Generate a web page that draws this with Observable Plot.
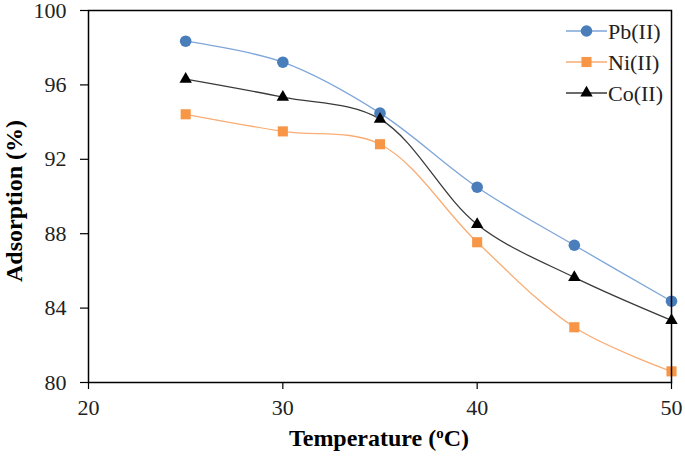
<!DOCTYPE html>
<html><head>
<meta charset="utf-8">
<script src="https://cdn.jsdelivr.net/npm/d3@7"></script>
<script src="https://cdn.jsdelivr.net/npm/@observablehq/plot@0.6"></script>
<style>body{margin:0;background:#fff}</style>
</head><body><div id="chart"></div>
<script>
const temperature = [25, 30, 35, 40, 45, 50];
const pb = [98.35, 97.22, 94.48, 90.5, 87.38, 84.37];
const ni = [94.42, 93.5, 92.81, 87.54, 82.97, 80.6];
const co = [96.31, 95.34, 94.16, 88.5, 85.65, 83.34];
const seriesNames = ["Pb(II)", "Ni(II)", "Co(II)"];
const xTicks = [20, 30, 40, 50];
const yTicks = [80, 84, 88, 92, 96, 100];

const FONT = "'Liberation Serif', 'Times New Roman', serif";
const styles = {
  "Pb(II)": {line: "#7ea6d9", fill: "#4a7ebb", symbol: "circle", r: 5.8},
  "Ni(II)": {line: "#f9ad74", fill: "#f79646", symbol: "square", r: 5.7},
  "Co(II)": {line: "#3a3a3a", fill: "#000000", symbol: "triangle", r: 4.6}
};
const valuesBy = {"Pb(II)": pb, "Ni(II)": ni, "Co(II)": co};
const data = seriesNames.map(s => temperature.map((t, i) => ({series: s, t, v: valuesBy[s][i]})));

const W = 685, H = 457, mL = 88, mR = 14, mT = 10, mB = 75;
const marks = [];
data.forEach(d => {
  const st = styles[d[0].series];
  marks.push(Plot.line(d, {x: "t", y: "v", stroke: st.line, strokeWidth: 1.3, curve: "catmull-rom"}));
});
data.forEach(d => {
  const st = styles[d[0].series];
  marks.push(Plot.dot(d, {x: "t", y: "v", symbol: st.symbol, r: st.r, fill: st.fill, stroke: "none"}));
});
marks.push(Plot.frame({stroke: "black", strokeWidth: 1.5}));
marks.push(Plot.axisX({ticks: xTicks, tickSize: 7, tickPadding: 10, label: null, stroke: "black", strokeWidth: 1.2, fill: "#222", fontSize: 22, fontFamily: FONT}));
marks.push(Plot.axisY({ticks: yTicks, tickSize: 8, tickPadding: 14, label: null, stroke: "black", strokeWidth: 1.2, fill: "#222", fontSize: 22, fontFamily: FONT}));

const chart = Plot.plot({
  width: W, height: H,
  marginLeft: mL, marginRight: mR, marginTop: mT, marginBottom: mB,
  x: {domain: [20, 50]},
  y: {domain: [80, 100]},
  style: {fontFamily: FONT, fontSize: "22px", background: "#fff", overflow: "visible"},
  marks
});
document.getElementById("chart").append(chart);

const svg = d3.select(chart);

// axis titles
const xt = svg.append("text")
  .attr("x", 379).attr("y", 446)
  .attr("text-anchor", "middle")
  .attr("font-weight", "bold").attr("font-size", 24).attr("fill", "#000")
  .attr("font-family", FONT);
xt.append("tspan").text("Temperature (");
xt.append("tspan").text("o").attr("baseline-shift", "super").attr("font-size", 15);
xt.append("tspan").text("C)");

svg.append("text")
  .attr("transform", `translate(22,201) rotate(-90)`)
  .attr("text-anchor", "middle")
  .attr("font-weight", "bold").attr("font-size", 24).attr("fill", "#000")
  .attr("font-family", FONT)
  .text("Adsorption (%)");

// legend
const lg = svg.append("g");
seriesNames.forEach((s, i) => {
  const st = styles[s];
  const y = 31 + i * 31;
  lg.append("line").attr("x1", 566).attr("x2", 607).attr("y1", y).attr("y2", y)
    .attr("stroke", st.line).attr("stroke-width", 1.3);
  const sym = {circle: d3.symbolCircle, square: d3.symbolSquare, triangle: d3.symbolTriangle}[st.symbol];
  lg.append("path").attr("d", d3.symbol(sym, Math.PI * st.r * st.r)())
    .attr("transform", `translate(586.5,${y})`).attr("fill", st.fill);
  lg.append("text").attr("x", 608).attr("y", y).attr("dy", "0.35em")
    .attr("text-anchor", "start")
    .attr("font-size", 22).attr("font-family", FONT).attr("fill", "#222").text(s);
});
</script>
</body></html>
